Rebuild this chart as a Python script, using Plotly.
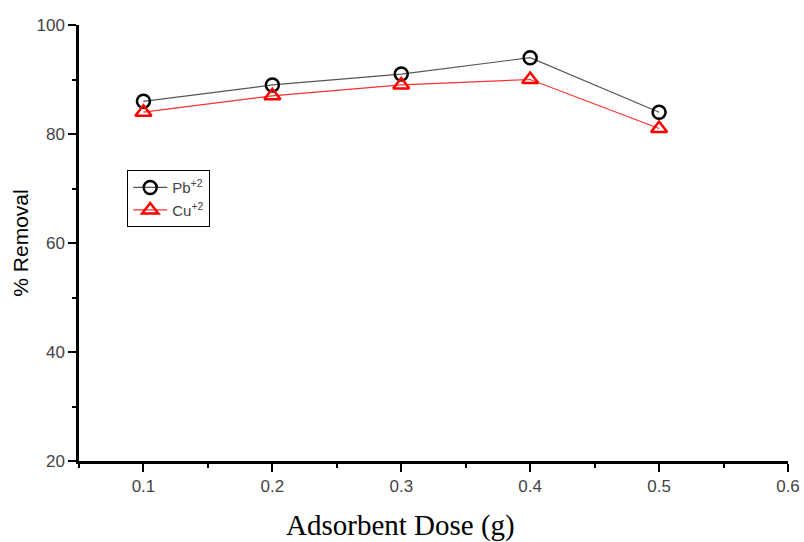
import plotly.graph_objects as go

dose = [0.1, 0.2, 0.3, 0.4, 0.5]
pb_removal = [86, 89, 91, 94, 84]
cu_removal = [84, 87, 89, 90, 81]

fig = go.Figure()
fig.add_trace(go.Scatter(
    x=dose, y=pb_removal, mode="lines+markers", name="Pb<sup>+2</sup>",
    line=dict(color="#555555", width=1.2),
    marker=dict(symbol="circle-open", size=13, color="black", line=dict(width=2.5)),
))
fig.add_trace(go.Scatter(
    x=dose, y=cu_removal, mode="lines+markers", name="Cu<sup>+2</sup>",
    line=dict(color="#ff3030", width=1.2),
    marker=dict(symbol="triangle-up-open", size=14, color="red", line=dict(width=2.5)),
))

axis_common = dict(
    showline=True, linecolor="black", linewidth=2.5, mirror=False,
    ticks="outside", ticklen=8, tickwidth=2, tickcolor="black",
    showgrid=False, zeroline=False, automargin=False,
    tickfont=dict(family="Liberation Sans, Arial", size=17, color="#444444"),
)

fig.update_xaxes(
    range=[0.05, 0.6], tick0=0.1, dtick=0.1, tickformat=".1f",
    minor=dict(dtick=0.05, tick0=0.05, ticks="outside", ticklen=4, tickwidth=2, tickcolor="black"),
    **axis_common,
)
fig.update_yaxes(
    range=[20, 100], tick0=20, dtick=20,
    minor=dict(dtick=10, tick0=20, ticks="outside", ticklen=4, tickwidth=2, tickcolor="black"),
    title=dict(text="% Removal", font=dict(family="Liberation Sans, Arial", size=21, color="black"), standoff=3),
    **axis_common,
)

fig.add_annotation(
    text="Adsorbent Dose (g)", xref="paper", yref="paper",
    x=0.453, y=-0.147, xanchor="center", yanchor="middle", showarrow=False,
    font=dict(family="Liberation Serif, Times New Roman", size=29, color="black"),
)

fig.update_layout(
    width=804, height=542,
    margin=dict(l=79, r=16, t=25, b=81),
    plot_bgcolor="white", paper_bgcolor="white",
    showlegend=True,
    legend=dict(
        x=0.068, y=0.667, xanchor="left", yanchor="top",
        bordercolor="black", borderwidth=1, bgcolor="white",
        font=dict(family="Liberation Sans, Arial", size=15, color="#444444"),
        itemwidth=34, tracegroupgap=2,
    ),
)

fig.write_html("out.html", config={"displayModeBar": False},
               post_script="document.body.style.margin='0';document.body.style.overflow='hidden';")
